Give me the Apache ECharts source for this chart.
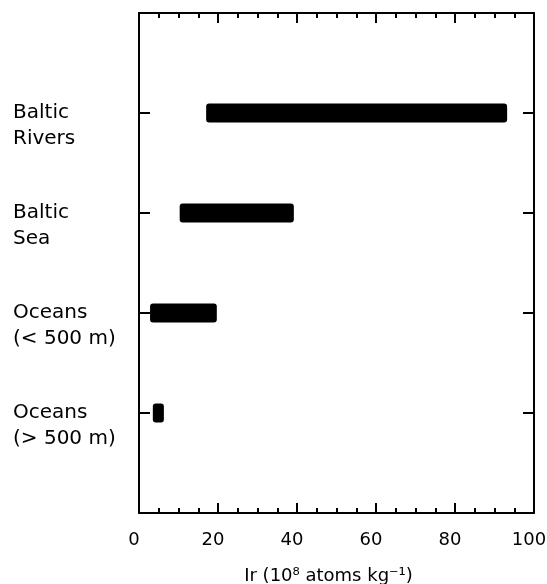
<!DOCTYPE html>
<html>
<head>
<meta charset="utf-8">
<script src="https://cdn.jsdelivr.net/npm/echarts@6/dist/echarts.min.js"></script>
<style>
html,body{margin:0;padding:0;background:#fff;}
#chart{width:547px;height:584px;}
</style>
</head>
<body>
<div id="chart"></div>
<script>
const categories = ['Baltic\nRivers', 'Baltic\nSea', 'Oceans\n(< 500 m)', 'Oceans\n(> 500 m)'];
const lowValues = [17.0, 10.3, 2.8, 3.5];
const highValues = [93.2, 39.2, 19.7, 6.3];
const xTickLabels = [0, 20, 40, 60, 80, 100];
const xAxisName = 'Ir (10⁸ atoms kg⁻¹)';

const font = 'DejaVu Sans';
const data = categories.map((c, i) => [lowValues[i], highValues[i], i + 1]);
const rowValues = categories.map((c, i) => i + 1);

const xCommon = {
  type: 'value', min: 0, max: 100, interval: 20,
  axisLine: { show: true, onZero: false, lineStyle: { color: '#000', width: 2 } },
  axisTick: { show: true, inside: true, length: 10, lineStyle: { color: '#000', width: 2 } },
  minorTick: { show: true, splitNumber: 4, length: 5, lineStyle: { color: '#000', width: 2 } },
  splitLine: { show: false }, minorSplitLine: { show: false }
};
const yCommon = {
  type: 'value', min: 0, max: 5, inverse: true,
  axisLine: { show: true, onZero: false, lineStyle: { color: '#000', width: 2 } },
  axisTick: { show: true, inside: true, length: 11, customValues: rowValues, lineStyle: { color: '#000', width: 2 } },
  splitLine: { show: false }
};

const chart = echarts.init(document.getElementById('chart'));
chart.setOption({
  backgroundColor: '#fff',
  animation: false,
  grid: { left: 139, right: 13, top: 13, bottom: 71, containLabel: false, outerBoundsMode: 'none' },
  xAxis: [
    Object.assign({}, xCommon, {
      position: 'bottom',
      axisLabel: {
        show: true, margin: 18, color: '#000', fontFamily: font, fontSize: 18,
        padding: [0, 10, 0, 0],
        customValues: xTickLabels, formatter: v => String(v)
      },
      name: xAxisName, nameLocation: 'middle', nameGap: 54,
      nameTextStyle: { color: '#000', fontFamily: font, fontSize: 18, padding: [0, 16, 0, 0] }
    }),
    Object.assign({}, xCommon, { position: 'top', axisLabel: { show: false } })
  ],
  yAxis: [
    Object.assign({}, yCommon, {
      position: 'left',
      axisLabel: {
        show: true, align: 'left', margin: 126, color: '#000', fontFamily: font,
        fontSize: 20, lineHeight: 26, verticalAlign: 'middle',
        customValues: rowValues,
        formatter: v => '\n' + categories[Math.round(v) - 1]
      }
    }),
    Object.assign({}, yCommon, { position: 'right', axisLabel: { show: false } })
  ],
  series: [{
    type: 'custom',
    xAxisIndex: 0, yAxisIndex: 0,
    data: data,
    encode: { x: [0, 1], y: 2 },
    renderItem: function (params, api) {
      const a = api.coord([api.value(0), api.value(2)]);
      const b = api.coord([api.value(1), api.value(2)]);
      const h = 19;
      return {
        type: 'rect',
        shape: { x: a[0], y: a[1] - h / 2, width: b[0] - a[0], height: h, r: 3 },
        style: { fill: '#000' }
      };
    }
  }]
});
</script>
</body>
</html>
